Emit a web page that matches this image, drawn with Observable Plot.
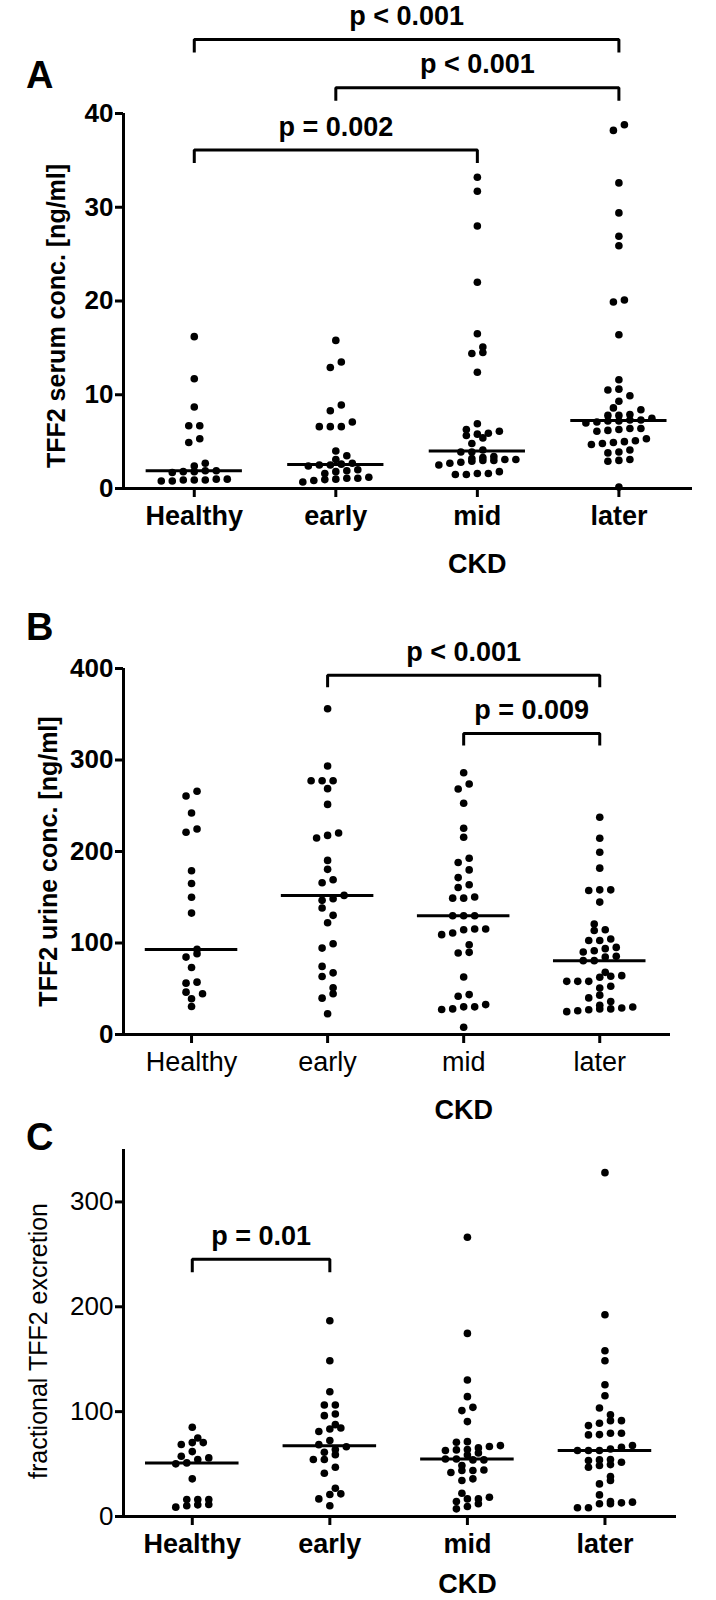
<!DOCTYPE html>
<html><head><meta charset="utf-8">
<script src="https://cdn.jsdelivr.net/npm/d3@7"></script>
<script src="https://cdn.jsdelivr.net/npm/@observablehq/plot@0.6"></script>
<style>
body{margin:0;background:#fff;}
#root{position:relative;width:716px;height:1600px;font-family:"Liberation Sans",Arial,sans-serif;}
.panel{position:absolute;left:0;}
.letter{position:absolute;left:26px;font:bold 38px "Liberation Sans",Arial,sans-serif;line-height:1;}
</style></head><body><div id="root"></div>
<script>
const categories = ["Healthy", "early", "mid", "later"];

// A: TFF2 serum conc. [ng/ml]
const serumHealthy = [16.2, 11.7, 8.7, 6.7, 6.7, 5.3, 4.9, 2.7, 2.4, 1.9, 1.9, 1.8, 1.8, 1.7, 1.0, 1.0, 0.9, 0.9, 0.9, 0.8, 0.8];
const serumEarly = [15.8, 13.5, 12.9, 8.9, 8.3, 7.1, 6.6, 6.6, 6.6, 4.0, 3.5, 3.1, 2.7, 2.6, 2.5, 2.5, 2.4, 2.0, 1.9, 1.8, 1.6, 1.2, 1.1, 1.1, 1.0, 0.95, 0.85, 0.7];
const serumMid = [33.2, 31.7, 28.0, 22.0, 16.5, 15.1, 14.5, 14.4, 12.4, 6.9, 6.3, 6.1, 5.9, 5.8, 5.65, 5.4, 4.8, 4.1, 3.9, 3.9, 3.4, 3.3, 3.2, 3.1, 3.1, 3.0, 3.0, 2.9, 2.8, 2.7, 2.5, 1.8, 1.6, 1.6, 1.5, 1.5];
const serumLater = [38.8, 38.2, 32.6, 29.4, 26.9, 25.9, 20.1, 19.9, 16.4, 11.6, 10.6, 10.5, 9.9, 9.3, 8.6, 8.4, 7.9, 7.8, 7.8, 7.5, 7.3, 7.3, 7.2, 7.2, 7.1, 7.0, 6.4, 6.4, 6.3, 6.2, 6.1, 5.3, 5.1, 5.0, 4.9, 4.8, 4.7, 4.1, 3.9, 3.8, 3.1, 3.0, 2.9, 0.15];
const serumTicks = [0, 10, 20, 30, 40];
const serumTests = [
  {from: "Healthy", to: "mid", label: "p = 0.002"},
  {from: "early", to: "later", label: "p < 0.001"},
  {from: "Healthy", to: "later", label: "p < 0.001"}
];

// B: TFF2 urine conc. [ng/ml]
const urineHealthy = [265.8, 260.7, 242, 224.6, 221, 179, 165, 150, 132.7, 93, 88.2, 84.6, 73.3, 57.2, 56.1, 46.3, 44.5, 39, 30.6];
const urineEarly = [356, 293.5, 277.4, 277.4, 277.4, 268.7, 251.5, 220.2, 217.6, 214.7, 190.3, 180.5, 169.2, 165.9, 152, 148.4, 146.6, 138.2, 130.2, 122.1, 99.2, 94.4, 74.4, 67.4, 63.4, 51, 44.5, 39.7, 22.6];
const urineMid = [286.1, 273.7, 268.3, 252.7, 225.4, 215.6, 192.7, 187.9, 179.9, 171.5, 163.6, 160.6, 150.2, 149.0, 149.0, 129.8, 129.8, 129.8, 115.3, 115.3, 114.5, 110.9, 109.1, 98.1, 89.8, 89.1, 62.9, 43.6, 41.8, 32.7, 30.2, 30.2, 28.0, 27.3, 8];
const urineLater = [237.4, 214.5, 199.2, 181.8, 158.1, 158.1, 157.4, 144.7, 120.7, 114.5, 113.7, 104.4, 102.8, 102.8, 95.2, 93.8, 91.6, 90.2, 85.4, 84.7, 80.7, 80.7, 67.9, 64.3, 63.6, 62.5, 58.1, 58.1, 58.1, 52.7, 50.9, 43, 40, 36, 32, 30, 29, 28, 28, 27, 26, 25];
const urineTicks = [0, 100, 200, 300, 400];
const urineTests = [
  {from: "mid", to: "later", label: "p = 0.009"},
  {from: "early", to: "later", label: "p < 0.001"}
];

// C: fractional TFF2 excretion
const fracHealthy = [85.1, 74.9, 70.5, 70.5, 68.6, 61.9, 57.5, 55.9, 54.3, 51.1, 50.2, 35.9, 16.2, 16.2, 16.2, 11.4, 11.1, 10.2, 8.9];
const fracEarly = [186.7, 148.6, 119, 106.3, 106.3, 97.8, 96.2, 87.6, 84.4, 83.5, 81, 72.4, 68.5, 66.5, 63.8, 61.3, 59, 54.3, 54.3, 47, 41.3, 27, 21.6, 21, 16.8, 10.2];
const fracMid = [266.3, 174.6, 130.2, 114.3, 104.1, 101, 90.5, 71.4, 70.8, 67.6, 66.7, 65.4, 63.8, 63.5, 62.9, 60.6, 58.7, 54.9, 54.9, 54, 54, 48.6, 44.4, 43.8, 43.8, 41.9, 35.9, 34.3, 22.2, 18.4, 16.8, 16.8, 14.3, 12.1, 9.5, 7.3];
const fracLater = [327.9, 192.4, 158.1, 148.6, 125.7, 115.2, 103.5, 97.1, 91.4, 91.4, 88.9, 86.7, 79.4, 79.4, 78.1, 77.8, 67.6, 66, 64.4, 62.9, 62.9, 62.9, 54.3, 54, 53.3, 51.7, 49.5, 48.6, 47, 38.1, 34.3, 31.1, 20.6, 14.3, 13.7, 13, 12.1, 12.1, 8.3, 8.3];
const fracTicks = [0, 100, 200, 300];
const fracTests = [
  {from: "Healthy", to: "early", label: "p = 0.01"}
];

const FONT = '"Liberation Sans", Arial, sans-serif';
const R = 3.8;

// row-based scatter-dot layout (GraphPad-like)
function swarm(values, idx, pxY, pxX, spacing, rowPx) {
  const sorted = values.slice().sort((a, b) => a - b);
  const rows = [];
  let cur = null;
  for (const v of sorted) {
    if (cur && (v - cur[0]) * pxY < rowPx) cur.push(v);
    else { cur = [v]; rows.push(cur); }
  }
  const out = [];
  let prev = [];
  let flip = 1;
  for (const row of rows) {
    const n = row.length;
    let pos = row.map((v, k) => ({ox: (k - (n - 1) / 2) * spacing, v}));
    const clash = pos.some(p => prev.some(q => Math.abs(p.ox - q.ox) < 2 * R + 0.5 && Math.abs(p.v - q.v) * pxY < 2 * R + 0.5));
    if (clash) { pos = pos.map(p => ({ox: p.ox + flip * spacing / 2, v: p.v})); flip = -flip; }
    for (const p of pos) out.push({x: idx + p.ox / pxX, y: p.v});
    prev = pos;
  }
  return out;
}

function panel(cfg) {
  const {groups, tests, ticks, yMax, yLabel, yLabelWeight, yLabelDx, yLabelDy, height, marginTop, marginBottom, marginRight,
         tickWeight, xWeight, levels, legPx, ckdDy} = cfg;
  const marginLeft = 123;
  const width = 716;
  const xDomain = [-0.5, 3.52];
  const pxX = (width - marginLeft - marginRight) / (xDomain[1] - xDomain[0]);
  const pxY = (height - marginTop - marginBottom) / yMax;
  const dots = groups.flatMap((vals, i) => swarm(vals, i, pxY, pxX, 11, 6));
  const medians = groups.map((vals, i) => ({i, m: d3.median(vals)}));
  const leg = legPx / pxY;
  const bracketPts = tests.flatMap((t, k) => {
    const a = categories.indexOf(t.from), b = categories.indexOf(t.to), L = levels[k];
    return [{k, x: a, y: L - leg}, {k, x: a, y: L}, {k, x: b, y: L}, {k, x: b, y: L - leg}];
  });
  const bracketText = tests.map((t, k) => ({
    x: (categories.indexOf(t.from) + categories.indexOf(t.to)) / 2, y: levels[k], label: t.label
  }));
  return Plot.plot({
    width, height, marginLeft, marginRight, marginTop, marginBottom,
    style: {fontFamily: FONT, background: "#fff", overflow: "visible"},
    x: {domain: xDomain, axis: null},
    y: {domain: [0, yMax], axis: null},
    marks: [
      Plot.axisY({ticks, tickSize: 8, tickPadding: 2, strokeWidth: 3, fontSize: 26, fontWeight: tickWeight, fill: "#000", stroke: "#000", label: null}),
      Plot.axisX({ticks: [0, 1, 2, 3], tickFormat: i => categories[i], tickSize: 9, tickPadding: 8, strokeWidth: 3, fontSize: 27, fontWeight: xWeight, fill: "#000", stroke: "#000", label: null}),
      Plot.ruleX([xDomain[0]], {strokeWidth: 3, stroke: "#000"}),
      Plot.ruleY([0], {x1: xDomain[0] - 8 / pxX, x2: xDomain[1], strokeWidth: 3, stroke: "#000"}),
      Plot.dot(dots, {x: "x", y: "y", r: R, fill: "#000", stroke: null}),
      Plot.ruleY(medians, {y: "m", x1: d => d.i - 0.34, x2: d => d.i + 0.34, strokeWidth: 3, stroke: "#000"}),
      Plot.line(bracketPts, {x: "x", y: "y", z: "k", strokeWidth: 3, stroke: "#000", curve: "linear", strokeLinejoin: "miter", strokeLinecap: "butt"}),
      Plot.text(bracketText, {x: "x", y: "y", text: "label", dy: -23, fontSize: 27, fontWeight: "bold", fill: "#000"}),
      Plot.text([yLabel], {frameAnchor: "left", textAnchor: "middle", rotate: -90, dx: yLabelDx, dy: yLabelDy, fontSize: 25, fontWeight: yLabelWeight, fill: "#000"}),
      Plot.text(["CKD"], {x: () => 2, frameAnchor: "bottom", dy: ckdDy, fontSize: 27, fontWeight: "bold", fill: "#000"})
    ]
  });
}

const root = document.getElementById("root");
function place(svg, top) {
  const wrap = document.createElement("div");
  wrap.className = "panel";
  wrap.style.top = top + "px";
  wrap.appendChild(svg);
  root.appendChild(wrap);
}
function letter(t, top) {
  const d = document.createElement("div");
  d.className = "letter";
  d.style.top = top + "px";
  d.textContent = t;
  root.appendChild(d);
}

place(panel({
  groups: [serumHealthy, serumEarly, serumMid, serumLater], tests: serumTests, ticks: serumTicks, yMax: 40,
  yLabel: "TFF2 serum conc. [ng/ml]", yLabelWeight: "bold", yLabelDx: -67, yLabelDy: 15,
  height: 600, marginTop: 113, marginBottom: 112, marginRight: 24,
  tickWeight: "bold", xWeight: "bold", levels: [36.1, 42.75, 47.9], legPx: 13, ckdDy: 84
}), 0);
place(panel({
  groups: [urineHealthy, urineEarly, urineMid, urineLater], tests: urineTests, ticks: urineTicks, yMax: 400,
  yLabel: "TFF2 urine conc. [ng/ml]", yLabelWeight: "bold", yLabelDx: -75, yLabelDy: 10,
  height: 530, marginTop: 68, marginBottom: 96, marginRight: 46,
  tickWeight: "bold", xWeight: "normal", levels: [329, 392.6], legPx: 12, ckdDy: 84
}), 600);
place(panel({
  groups: [fracHealthy, fracEarly, fracMid, fracLater], tests: fracTests, ticks: fracTicks, yMax: 350,
  yLabel: "fractional TFF2 excretion", yLabelWeight: "normal", yLabelDx: -85, yLabelDy: 8,
  height: 470, marginTop: 19, marginBottom: 84, marginRight: 40,
  tickWeight: "normal", xWeight: "bold", levels: [245.4], legPx: 13, ckdDy: 76
}), 1130);

letter("A", 56);
letter("B", 608);
letter("C", 1118);
</script></body></html>
